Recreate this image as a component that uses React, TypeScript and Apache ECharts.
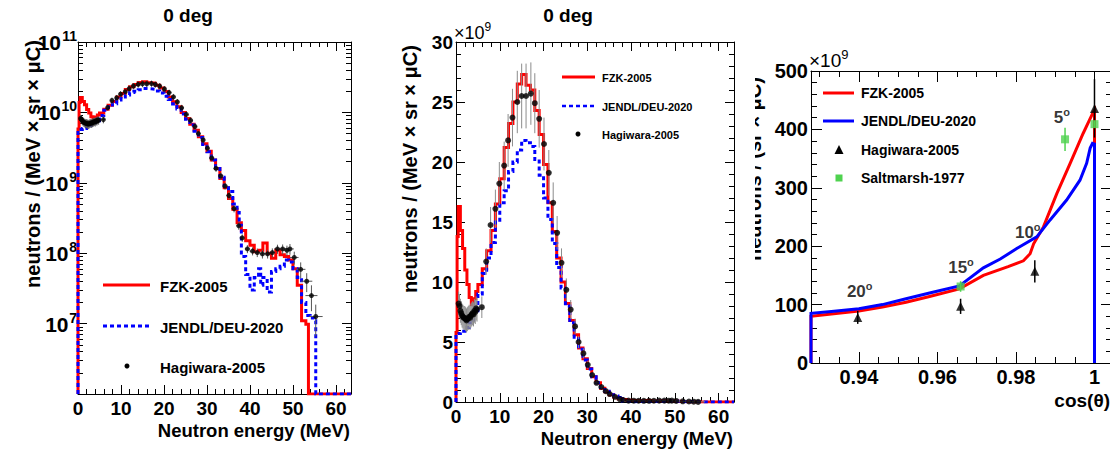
import React, { useEffect, useRef } from 'react';
import * as echarts from 'echarts';

const FONT = '"Liberation Sans", Arial, Helvetica, sans-serif';

// ---------- Panels 1 & 2 : 0 deg neutron spectra (values in units of 1e9) ----------
const fzkEdges = [0, 0.25, 0.5, 1, 1.5, 2, 2.5, 3, 3.5, 4, 4.5, 5, 6, 7, 8, 9, 10, 11, 12, 13, 14, 15, 16, 17, 18, 19, 20, 21, 22, 23, 24, 25, 26, 27, 28, 29, 30, 31, 32, 33, 34, 35, 36, 37, 38, 39, 40, 41, 42, 43, 44, 45, 46, 47, 48, 49, 50, 51, 52, 53, 53.6, 63.5];
const fzkValues = [5.8, 13.8, 16.3, 14.3, 12.8, 11.0, 9.8, 8.7, 8.1, 8.6, 9.2, 9.8, 11.1, 12.6, 14.3, 16.5, 18.6, 21.2, 23.2, 25.0, 26.5, 27.3, 26.4, 26.0, 24.3, 22.3, 19.8, 16.6, 14.2, 12.0, 10.0, 8.2, 6.8, 5.6, 4.5, 3.6, 2.8, 2.1, 1.6, 1.15, 0.85, 0.6, 0.42, 0.27, 0.21, 0.15, 0.13, 0.105, 0.11, 0.14, 0.10, 0.085, 0.11, 0.095, 0.09, 0.08, 0.06, 0.035, 0.011, 0.0098, 0, 0];

const jendlEdges = [0, 1, 2, 3, 4, 5, 6, 7, 8, 9, 10, 11, 12, 13, 14, 15, 16, 17, 18, 19, 20, 21, 22, 23, 24, 25, 26, 27, 28, 29, 30, 31, 32, 33, 34, 35, 36, 37, 37.5, 38, 39, 40, 41, 42, 42.5, 43, 44, 45, 46, 47, 48, 49, 50, 51, 52, 53, 54, 55, 55.3, 63.5];
const jendlValues = [5.7, 5.9, 6.2, 6.6, 7.6, 9.0, 10.7, 12.0, 13.3, 15.0, 16.6, 17.6, 19.2, 20.0, 21.0, 21.8, 21.6, 21.3, 20.2, 18.9, 17.0, 15.2, 13.2, 11.2, 9.5, 8.0, 6.6, 5.4, 4.4, 3.5, 2.75, 2.1, 1.6, 1.2, 0.9, 0.75, 0.5, 0.38, 0.25, 0.09, 0.05, 0.03, 0.045, 0.06, 0.035, 0.045, 0.028, 0.055, 0.06, 0.065, 0.08, 0.075, 0.06, 0.045, 0.02, 0.013, 0.012, 0.011, 0, 0];

const hagE = [0.6, 0.8, 1.0, 1.2, 1.4, 1.6, 1.8, 2.0, 2.2, 2.4, 2.6, 2.8, 3.0, 3.2, 3.4, 3.6, 3.8, 4.0, 4.2, 4.4, 4.6, 4.8, 5.9, 6.9, 7.9, 9.0, 9.9, 11.0, 11.9, 12.9, 14.0, 15.0, 16.0, 17.1, 18.0, 19.0, 20.1, 21.2, 22.2, 23.1, 24.1, 25.2, 26.2, 27.2, 28.0, 29.1, 30.1, 31.1, 32.1, 33.2, 34.2, 35.1, 36.3, 37.4, 38.2, 39.4, 40.6, 41.7, 42.9, 44.1, 45.2, 46.4, 47.6, 48.6, 49.3, 50.3, 51.8, 53.2, 54.3, 55.3];
const hagV = [8.2, 8.0, 7.6, 7.4, 7.2, 7.1, 7.0, 7.0, 6.9, 6.8, 6.9, 7.0, 7.1, 7.0, 7.2, 7.3, 7.4, 7.3, 7.6, 7.5, 7.8, 7.7, 7.9, 11.7, 14.75, 16.1, 18.2, 19.7, 21.8, 23.7, 25.0, 25.5, 25.5, 25.7, 24.9, 23.6, 21.5, 19.1, 16.6, 14.1, 11.6, 9.35, 7.7, 6.3, 5.0, 4.05, 3.1, 2.25, 1.6, 1.25, 0.9, 0.66, 0.43, 0.245, 0.165, 0.115, 0.107, 0.102, 0.098, 0.098, 0.102, 0.115, 0.115, 0.11, 0.115, 0.087, 0.059, 0.04, 0.025, 0.0126];
const hagErr = [1.0, 1.0, 1.0, 1.0, 1.0, 1.0, 1.0, 1.0, 1.0, 1.0, 1.0, 1.0, 1.0, 1.0, 1.0, 1.0, 1.0, 1.0, 1.0, 1.0, 1.0, 1.0, 0.9, 1.1, 1.5, 1.6, 1.8, 2.0, 2.2, 2.4, 2.6, 2.7, 2.7, 2.6, 2.5, 2.4, 2.2, 1.9, 1.7, 1.4, 1.2, 0.95, 0.8, 0.65, 0.5, 0.42, 0.32, 0.24, 0.17, 0.14, 0.1, 0.08, 0.05, 0.03, 0.02, 0.015, 0.014, 0.014, 0.014, 0.014, 0.015, 0.017, 0.018, 0.018, 0.02, 0.018, 0.015, 0.012, 0.01, 0.006];
const hagXErr = [0.1, 0.1, 0.1, 0.1, 0.1, 0.1, 0.1, 0.1, 0.1, 0.1, 0.1, 0.1, 0.1, 0.1, 0.1, 0.1, 0.1, 0.1, 0.1, 0.1, 0.1, 0.1, 0.4, 0.4, 0.4, 0.4, 0.4, 0.4, 0.4, 0.4, 0.4, 0.4, 0.4, 0.4, 0.4, 0.4, 0.4, 0.5, 0.5, 0.5, 0.5, 0.5, 0.5, 0.5, 0.5, 0.5, 0.5, 0.6, 0.6, 0.6, 0.6, 0.6, 0.6, 0.6, 0.6, 0.6, 0.7, 0.7, 0.7, 0.7, 0.7, 0.8, 0.8, 0.8, 0.9, 1.0, 1.1, 1.3, 1.4, 1.6];

// ---------- Panel 3 : angular distribution (units of 1e9) ----------
const fzkCos = [0.9278, 0.9278, 0.933, 0.94, 0.946, 0.952, 0.958, 0.9656, 0.9717, 0.978, 0.9819, 0.9836, 0.9845, 0.987, 0.9904, 0.9938, 0.9971, 0.9997, 1.0, 1.0];
const fzkAng = [0, 80, 84, 89, 96, 104, 114, 127, 150, 165, 175, 187, 204, 233, 290, 342, 393, 430, 433, 0];
const jendlCos = [0.9278, 0.9278, 0.933, 0.94, 0.946, 0.952, 0.958, 0.9656, 0.9717, 0.976, 0.9802, 0.9853, 0.9887, 0.9929, 0.9963, 0.998, 0.9989, 0.9995, 1.0, 1.0];
const jendlAng = [0, 85, 88, 93, 100, 110, 120, 132, 163, 178, 196, 216, 245, 279, 313, 342, 368, 376, 375, 0];
const hagAngCos = [0.9397, 0.9659, 0.9848, 1.0];
const hagAngV = [78, 97, 157, 436];
const hagAngErr = [11, 13, 19, 50];
const saltCos = [0.9659, 0.9925, 1.0];
const saltV = [131, 383, 409];
const saltErr = [9, 20, 6];
const angleNames = ['20', '15', '10', '5'];
const angleNameCos = [0.9402, 0.966, 0.983, 0.9917];
const angleNameV = [122, 164, 223, 420];

// ---------- tick lists ----------
const energyMajor = [0, 10, 20, 30, 40, 50, 60];
const energyMinor: number[] = [];
for (let e = 2; e <= 62; e += 2) if (e % 10 !== 0) energyMinor.push(e);
const linMajor = [0, 5, 10, 15, 20, 25, 30];
const linMinor: number[] = [];
for (let v = 1; v < 30; v++) if (v % 5 !== 0) linMinor.push(v);
const logMajor = [6, 7, 8, 9, 10, 11];
const logLabels = [7, 8, 9, 10, 11];
const logMinor: number[] = [];
for (let d = 6; d < 11; d++) for (let k = 2; k <= 9; k++) logMinor.push(d + Math.log10(k));
const cosMajor = [0.94, 0.96, 0.98, 1.0];
const cosMinor = [0.93, 0.935, 0.945, 0.95, 0.955, 0.965, 0.97, 0.975, 0.985, 0.99, 0.995];
const angMajor = [0, 100, 200, 300, 400, 500];
const angMinor: number[] = [];
for (let v = 20; v < 500; v += 20) if (v % 100 !== 0) angMinor.push(v);

const LOG_MIN = 0.001;
const LOG_MAX = 100;

const BLACK = '#000';
const RED = '#ff0000';
const BLUE = '#0000ff';
const GREEN = '#4fd24f';

const tickLine = { color: BLACK, width: 1 };

const baseAxis = (gridIndex: number, position: string, min: number, max: number) => ({
  type: 'value', gridIndex, position, min, max, offset: 0,
  splitLine: { show: false }, minorTick: { show: false }, minorSplitLine: { show: false },
  axisPointer: { show: false }, silent: true,
});

function axisPair(gridIndex: number, position: string, min: number, max: number, majors: number[], minors: number[], label: any, majorLen = 9, minorLen = 5) {
  const common: any = baseAxis(gridIndex, position, min, max);
  const major: any = {
    ...common,
    axisLine: { show: true, onZero: false, lineStyle: tickLine },
    axisTick: { show: true, inside: true, length: majorLen, customValues: majors, lineStyle: tickLine },
    axisLabel: label ? { show: true, customValues: label.values || majors, color: BLACK, fontFamily: FONT, ...label.style } : { show: false },
  };
  const minor: any = {
    ...common,
    axisLine: { show: false, onZero: false },
    axisTick: { show: true, inside: true, length: minorLen, customValues: minors, lineStyle: tickLine },
    axisLabel: { show: false },
  };
  return [major, minor];
}

function errRender(color: string, width: number) {
  return (params: any, api: any) => {
    const x = api.value(0), y = api.value(1), ey = api.value(2), ex = api.value(3);
    const lo = api.coord([x, y - ey]);
    const hi = api.coord([x, y + ey]);
    const l = api.coord([x - ex, y]);
    const r = api.coord([x + ex, y]);
    const style = { stroke: color, lineWidth: width };
    const children: any[] = [
      { type: 'line', shape: { x1: lo[0], y1: lo[1], x2: hi[0], y2: hi[1] }, style },
    ];
    if (ex > 0) children.push({ type: 'line', shape: { x1: l[0], y1: l[1], x2: r[0], y2: r[1] }, style });
    return { type: 'group', children };
  };
}

function txt(x: number, y: number, text: string, size: number, weight: string, align: string, extra: any = {}) {
  return {
    type: 'text', x, y, z: 10, silent: true, ...extra,
    style: {
      text, fontSize: size, fontWeight: weight, fontFamily: FONT, fill: BLACK,
      align, textAlign: align, verticalAlign: 'middle', textVerticalAlign: 'middle',
    },
  };
}

function supText(x: number, y: number, base: string, sup: string, size: number, supSize: number, align = 'left', weight = 'normal') {
  return {
    type: 'text', x, y, z: 10, silent: true,
    style: {
      text: `{b|${base}}{e|${sup}}`,
      align, textAlign: align, verticalAlign: 'middle', textVerticalAlign: 'middle',
      rich: {
        b: { fontSize: size, fontWeight: weight, fontFamily: FONT, fill: BLACK, color: BLACK, lineHeight: size + 6 },
        e: { fontSize: supSize, fontWeight: weight, fontFamily: FONT, fill: BLACK, color: BLACK, lineHeight: supSize, verticalAlign: 'top' },
      },
    },
  };
}

const Y1_EXP_AXIS = 1; // panel 1 left exponent-space axis

function buildOption(): any {
  const xAxis: any[] = [];
  const yAxis: any[] = [];
  const xLabelStyle = (size: number, margin: number, fmt?: any) => ({ fontSize: size, fontWeight: 'bold', margin, ...(fmt ? { formatter: fmt } : {}) });

  // Panel 1 x axes: 0,1 bottom ; 2,3 top
  xAxis.push(...axisPair(0, 'bottom', 0, 63.5, energyMajor, energyMinor, { style: xLabelStyle(19, 5) }));
  xAxis.push(...axisPair(0, 'top', 0, 63.5, energyMajor, energyMinor, null));
  // Panel 2 x axes: 4,5 bottom ; 6,7 top
  xAxis.push(...axisPair(1, 'bottom', 0, 63.5, energyMajor, energyMinor, { style: xLabelStyle(19, 5) }));
  xAxis.push(...axisPair(1, 'top', 0, 63.5, energyMajor, energyMinor, null));
  // Panel 3 x axes: 8,9 bottom ; 10,11 top
  const cosFmt = (v: number) => (Math.abs(v - 1) < 1e-9 ? '1' : v.toFixed(2));
  xAxis.push(...axisPair(2, 'bottom', 0.9278, 1.00446, cosMajor, cosMinor, { style: xLabelStyle(20, 4, cosFmt) }, 11, 6));
  xAxis.push(...axisPair(2, 'top', 0.9278, 1.00446, cosMajor, cosMinor, null, 11, 6));

  // Panel 1 y axes: 0 = log data axis (hidden), 1,2 left ; 3,4 right (exponent space)
  yAxis.push({
    type: 'log', logBase: 10, gridIndex: 0, position: 'left', min: LOG_MIN, max: LOG_MAX,
    axisLine: { show: false }, axisTick: { show: false }, axisLabel: { show: false },
    splitLine: { show: false }, minorTick: { show: false }, axisPointer: { show: false },
  });
  yAxis.push(...axisPair(0, 'left', 6, 11, logMajor, logMinor, null));
  yAxis.push(...axisPair(0, 'right', 6, 11, logMajor, logMinor, null));
  // Panel 2 y axes: 5,6 left ; 7,8 right
  yAxis.push(...axisPair(1, 'left', 0, 30, linMajor, linMinor, { style: { fontSize: 19, fontWeight: 'bold', margin: 3 } }));
  yAxis.push(...axisPair(1, 'right', 0, 30, linMajor, linMinor, null));
  // Panel 3 y axes: 9,10 left ; 11,12 right
  yAxis.push(...axisPair(2, 'left', 0, 500, angMajor, angMinor, { style: { fontSize: 20, fontWeight: 'bold', margin: 3 } }, 11, 6));
  yAxis.push(...axisPair(2, 'right', 0, 500, angMajor, angMinor, null, 11, 6));

  const Y2 = 5;
  const Y3 = 9;

  const stepData = (edges: number[], vals: number[], floor: number) =>
    [[0, floor], ...edges.map((e, i) => [e, Math.max(vals[i], floor)])];
  const errData = hagE.map((e, i) => [e, hagV[i], hagErr[i], hagXErr[i]]);
  const ptData = hagE.map((e, i) => [e, hagV[i]]);

  const lineSeries = (name: string, data: any[], xi: number, yi: number, color: string, dashed: boolean, step: any, z: number) => ({
    name, type: 'line', xAxisIndex: xi, yAxisIndex: yi, data, step, showSymbol: false, symbol: 'none',
    clip: true, z, silent: true,
    lineStyle: { color, width: 3, type: dashed ? [4, 3] : 'solid', cap: 'butt', join: 'miter' },
    itemStyle: { color },
  });

  const series: any[] = [
    // Panel 1 (log)
    lineSeries('FZK-2005', stepData(fzkEdges, fzkValues, LOG_MIN), 0, 0, RED, false, 'end', 2),
    lineSeries('JENDL/DEU-2020', stepData(jendlEdges, jendlValues, LOG_MIN), 0, 0, BLUE, true, 'end', 3),
    { type: 'custom', xAxisIndex: 0, yAxisIndex: 0, data: errData, renderItem: errRender('#555', 1), z: 4, silent: true, encode: { x: 0, y: 1 } },
    { name: 'Hagiwara-2005', type: 'scatter', xAxisIndex: 0, yAxisIndex: 0, data: ptData, symbol: 'circle', symbolSize: 5, itemStyle: { color: BLACK }, z: 5, silent: true },
    // Panel 2 (linear)
    lineSeries('FZK-2005', stepData(fzkEdges, fzkValues, 0), 4, Y2, RED, false, 'end', 2),
    lineSeries('JENDL/DEU-2020', stepData(jendlEdges, jendlValues, 0), 4, Y2, BLUE, true, 'end', 3),
    { type: 'custom', xAxisIndex: 4, yAxisIndex: Y2, data: errData, renderItem: errRender('#8c8c8c', 1), z: 4, silent: true, encode: { x: 0, y: 1 } },
    { name: 'Hagiwara-2005', type: 'scatter', xAxisIndex: 4, yAxisIndex: Y2, data: ptData, symbol: 'circle', symbolSize: 6, itemStyle: { color: BLACK }, z: 5, silent: true },
    // Panel 3 (angular)
    lineSeries('FZK-2005', fzkCos.map((c, i) => [c, fzkAng[i]]), 8, Y3, RED, false, false, 2),
    lineSeries('JENDL/DEU-2020', jendlCos.map((c, i) => [c, jendlAng[i]]), 8, Y3, BLUE, false, false, 3),
    { type: 'custom', xAxisIndex: 8, yAxisIndex: Y3, data: hagAngCos.map((c, i) => [c, hagAngV[i], hagAngErr[i], 0]), renderItem: errRender(BLACK, 1.5), z: 4, silent: true, encode: { x: 0, y: 1 } },
    { type: 'custom', xAxisIndex: 8, yAxisIndex: Y3, data: saltCos.map((c, i) => [c, saltV[i], saltErr[i], 0]), renderItem: errRender(GREEN, 1.5), z: 4, silent: true, encode: { x: 0, y: 1 } },
    { name: 'Hagiwara-2005', type: 'scatter', xAxisIndex: 8, yAxisIndex: Y3, data: hagAngCos.map((c, i) => [c, hagAngV[i]]), symbol: 'triangle', symbolSize: 9, itemStyle: { color: BLACK }, z: 5, silent: true },
    { name: 'Saltmarsh-1977', type: 'scatter', xAxisIndex: 8, yAxisIndex: Y3, data: saltCos.map((c, i) => [c, saltV[i]]), symbol: 'rect', symbolSize: 8, itemStyle: { color: GREEN }, z: 6, silent: true },
    {
      type: 'scatter', xAxisIndex: 8, yAxisIndex: Y3, symbolSize: 0, z: 7, silent: true,
      data: angleNames.map((n, i) => ({ name: n, value: [angleNameCos[i], angleNameV[i]] })),
      label: {
        show: true, position: 'inside', formatter: (p: any) => `${p.name}{e|o}`,
        fontSize: 17, fontWeight: 'bold', fontFamily: FONT, color: BLACK, lineHeight: 22,
        rich: {
          e: { fontSize: 11, fontWeight: 'bold', fontFamily: FONT, color: BLACK, lineHeight: 11, verticalAlign: 'top' },
        },
      },
    },
  ];

  const graphic: any[] = [
    txt(188, 15, '0 deg', 19, 'bold', 'center'),
    txt(568, 15, '0 deg', 19, 'bold', 'center'),
    txt(350, 430, 'Neutron energy (MeV)', 18.5, 'bold', 'right'),
    txt(733, 438, 'Neutron energy (MeV)', 18.5, 'bold', 'right'),
    txt(1110, 400, 'cos(θ)', 19, 'bold', 'right'),
    txt(33, 164, 'neutrons / (MeV × sr × μC)', 20, 'bold', 'center', { rotation: Math.PI / 2 }),
    txt(410, 169, 'neutrons / (MeV × sr × μC)', 20, 'bold', 'center', { rotation: Math.PI / 2 }),
    txt(754, 169, 'neutrons / (sr × μC)', 20, 'bold', 'center', { rotation: Math.PI / 2 }),
    { type: 'rect', z: 20, silent: true, shape: { x: 737, y: 50, width: 18, height: 240 }, style: { fill: '#fff' } },
    supText(454, 33, '×10', '9', 18, 12),
    supText(809, 60, '×10', '9', 19, 13),
    // legend panel 1
    { type: 'line', z: 10, silent: true, shape: { x1: 103, y1: 285, x2: 150, y2: 285 }, style: { stroke: RED, lineWidth: 3 } },
    { type: 'line', z: 10, silent: true, shape: { x1: 103, y1: 326, x2: 150, y2: 326 }, style: { stroke: BLUE, lineWidth: 3, lineDash: [4, 3] } },
    { type: 'circle', z: 10, silent: true, shape: { cx: 127, cy: 366, r: 2.5 }, style: { fill: BLACK } },
    txt(160, 286, 'FZK-2005', 15, 'bold', 'left'),
    txt(160, 327, 'JENDL/DEU-2020', 15, 'bold', 'left'),
    txt(160, 367, 'Hagiwara-2005', 15, 'bold', 'left'),
    // legend panel 2
    { type: 'line', z: 10, silent: true, shape: { x1: 562, y1: 77, x2: 595, y2: 77 }, style: { stroke: RED, lineWidth: 3 } },
    { type: 'line', z: 10, silent: true, shape: { x1: 562, y1: 106, x2: 595, y2: 106 }, style: { stroke: BLUE, lineWidth: 2.5, lineDash: [4, 3] } },
    { type: 'circle', z: 10, silent: true, shape: { cx: 578, cy: 134, r: 2.5 }, style: { fill: BLACK } },
    txt(602, 78, 'FZK-2005', 11, 'bold', 'left'),
    txt(602, 107, 'JENDL/DEU-2020', 11, 'bold', 'left'),
    txt(602, 135, 'Hagiwara-2005', 11, 'bold', 'left'),
    // legend panel 3
    { type: 'line', z: 10, silent: true, shape: { x1: 823, y1: 93, x2: 854, y2: 93 }, style: { stroke: RED, lineWidth: 3 } },
    { type: 'line', z: 10, silent: true, shape: { x1: 823, y1: 121, x2: 854, y2: 121 }, style: { stroke: BLUE, lineWidth: 3 } },
    { type: 'polygon', z: 10, silent: true, shape: { points: [[839, 145], [843.5, 154], [834.5, 154]] }, style: { fill: BLACK } },
    { type: 'rect', z: 10, silent: true, shape: { x: 835.5, y: 174.5, width: 7, height: 7 }, style: { fill: GREEN } },
    txt(861, 93, 'FZK-2005', 14, 'bold', 'left'),
    txt(861, 121, 'JENDL/DEU-2020', 14, 'bold', 'left'),
    txt(861, 150, 'Hagiwara-2005', 14, 'bold', 'left'),
    txt(861, 178, 'Saltmarsh-1977', 14, 'bold', 'left'),
  ];

  const gridBase = { show: false, containLabel: false, outerBoundsMode: 'none' };
  return {
    animation: false,
    backgroundColor: '#fff',
    textStyle: { fontFamily: FONT },
    tooltip: { show: false },
    grid: [
      { ...gridBase, left: 78, top: 42, width: 273, height: 352 },
      { ...gridBase, left: 456, top: 42, width: 278, height: 360 },
      { ...gridBase, left: 811, top: 71, width: 301, height: 292 },
    ],
    xAxis,
    yAxis,
    series,
    graphic,
  };
}

export default function App() {
  const ref = useRef<HTMLDivElement>(null);
  useEffect(() => {
    if (!ref.current) return;
    const chart = echarts.init(ref.current, null, { renderer: 'svg' });
    const option = buildOption();
    chart.setOption(option);
    // log-axis tick labels 10^n, placed through the panel-1 axis scale
    const labels = logLabels.map((v) => {
      const py = chart.convertToPixel({ yAxisIndex: Y1_EXP_AXIS } as any, v) as unknown as number;
      return {
        type: 'group', x: 77, y: py, z: 10, silent: true,
        children: [
          { type: 'text', x: v >= 10 ? -16 : -8.5, y: 0.5, style: { text: '10', fontSize: 21, fontWeight: 'bold', fontFamily: FONT, fill: BLACK, align: 'right', textAlign: 'right', verticalAlign: 'middle', textVerticalAlign: 'middle' } },
          { type: 'text', x: 0, y: -6, style: { text: String(v), fontSize: 14, fontWeight: 'bold', fontFamily: FONT, fill: BLACK, align: 'right', textAlign: 'right', verticalAlign: 'middle', textVerticalAlign: 'middle' } },
        ],
      };
    });
    chart.setOption({ graphic: [...option.graphic, ...labels] });
    return () => chart.dispose();
  }, []);
  return (
    <div
      ref={ref}
      style={{ position: 'absolute', left: 0, top: 0, width: 1110, height: 451, background: '#fff', overflow: 'hidden' }}
    />
  );
}
